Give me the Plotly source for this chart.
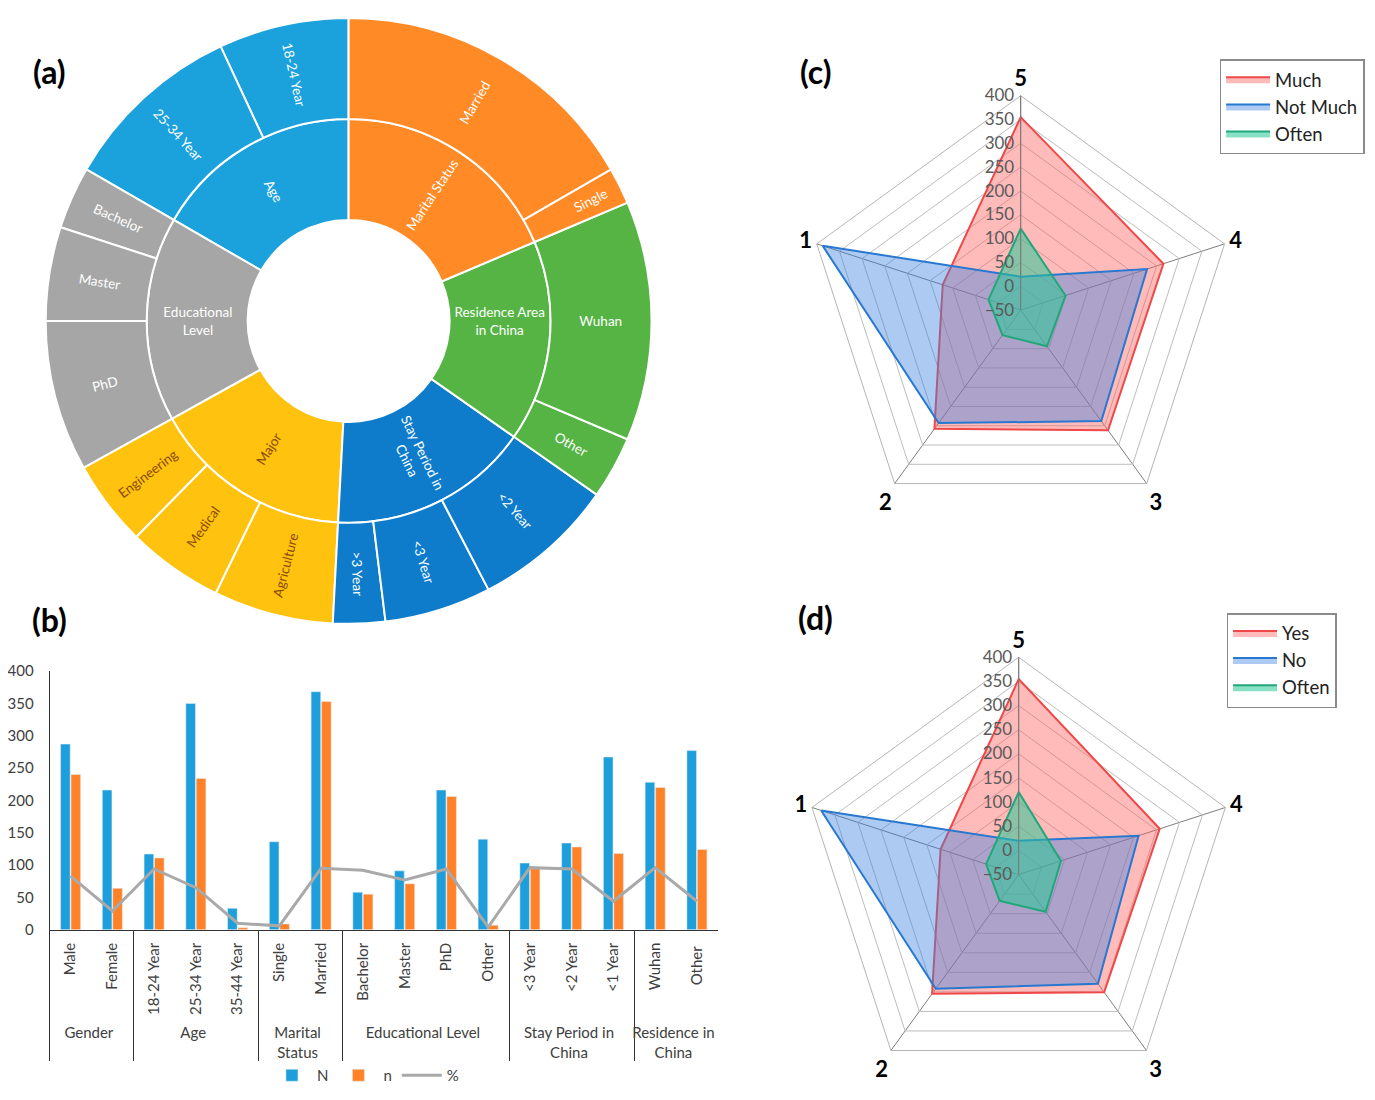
import plotly.graph_objects as go

# ---------------- (a) sunburst data ----------------
sb_groups = ["Age", "Educational Level", "Major", "Stay Period in China",
             "Residence Area in China", "Marital Status"]
sb_group_text = ["Age", "Educational<br>Level", "Major", "Stay Period in<br>China",
                 "Residence Area<br>in China", "Marital Status"]
sb_group_colors = ["#1BA1DC", "#A6A6A6", "#FFC20E", "#0E7CCB", "#55B444", "#FF8A26"]
sb_group_textcolors = ["white", "white", "#8A4B08", "white", "white", "white"]

sb_leaf_labels = ["18-24 Year", "25-34 Year",
                  "Bachelor", "Master", "PhD",
                  "Engineering", "Medical", "Agriculture",
                  ">3 Year", "<3 Year", "<2 Year",
                  "Other", "Wuhan",
                  "Single", "Married"]
sb_leaf_parents = ["Age", "Age",
                   "Educational Level", "Educational Level", "Educational Level",
                   "Major", "Major", "Major",
                   "Stay Period in China", "Stay Period in China", "Stay Period in China",
                   "Residence Area in China", "Residence Area in China",
                   "Marital Status", "Marital Status"]
sb_leaf_values = [25, 35,
                  12, 18, 29,
                  16.5, 18.5, 23,
                  10, 20.5, 27.5,
                  12, 46,
                  7, 60]

# ---------------- (b) bar chart data ----------------
bar_groups = ["Gender", "Gender", "Age", "Age", "Age",
              "Marital<br>Status", "Marital<br>Status",
              "Educational Level", "Educational Level", "Educational Level", "Educational Level",
              "Stay Period in<br>China", "Stay Period in<br>China", "Stay Period in<br>China",
              "Residence in<br>China", "Residence in<br>China"]
bar_cats = ["Male", "Female", "18-24 Year", "25-34 Year", "35-44 Year",
            "Single", "Married", "Bachelor", "Master", "PhD", "Other",
            "<3 Year", "<2 Year", "<1 Year", "Wuhan", "Other "]
N_vals = [287, 216, 117, 350, 33, 136, 368, 58, 91, 216, 140, 103, 134, 267, 228, 277]
n_vals = [240, 64, 111, 234, 3, 9, 353, 55, 71, 206, 7, 97, 128, 118, 220, 124]
pct_vals = [83, 29, 94, 65, 10, 6, 95, 92, 77, 94, 4, 96, 94, 44, 96, 44]
bar_yticks = [0, 50, 100, 150, 200, 250, 300, 350, 400]

# ---------------- (c),(d) radar data ----------------
radar_axes = ["1", "2", "3", "4", "5"]
c_much = [122, 258, 262, 265, 355]
c_notmuch = [387, 243, 238, 229, 20]
c_often = [21, 15, 44, 49, 121]
d_yes = [120, 255, 251, 257, 355]
d_no = [380, 242, 229, 211, 20]
d_often = [21, 17, 45, 42, 121]

# page body has an 8px margin; figure fills the rest of the window
OFF = 8
W, H = 1375 - OFF, 1100 - OFF
def px_x(v):
    return min(max((v - OFF) / W, 0), 1)
def px_y(v):
    return min(max(1 - (v - OFF) / H, 0), 1)

fig = go.Figure()

# ---- sunburst ----
ids = ["root"] + sb_groups + [p + "/" + l for p, l in zip(sb_leaf_parents, sb_leaf_labels)]
labels = [""] + sb_group_text + sb_leaf_labels
parents = [""] + ["root"] * len(sb_groups) + sb_leaf_parents
values = [0] + [0] * len(sb_groups) + sb_leaf_values
gc = dict(zip(sb_groups, sb_group_colors))
tc = dict(zip(sb_groups, sb_group_textcolors))
colors = ["white"] + sb_group_colors + [gc[p] for p in sb_leaf_parents]
tcolors = ["white"] + sb_group_textcolors + [tc[p] for p in sb_leaf_parents]
SB_CX, SB_CY, SB_R = 338, 316, 308
fig.add_trace(go.Sunburst(
    ids=ids, labels=labels, parents=parents, values=values,
    branchvalues="remainder", sort=False, rotation=90,
    marker=dict(colors=colors, line=dict(color="white", width=2)),
    leaf=dict(opacity=1),
    insidetextorientation="radial",
    insidetextfont=dict(family="Lato", size=13.5, color=tcolors),
    hoverinfo="label",
    domain=dict(x=[px_x(SB_CX - SB_R), px_x(SB_CX + SB_R)],
                y=[px_y(SB_CY + SB_R), px_y(SB_CY - SB_R)]),
))

# ---- bar chart ----
xcat = [bar_groups, bar_cats]
fig.add_trace(go.Bar(x=xcat, y=N_vals, name="N", marker_color="#1E9FDB",
                     xaxis="x", yaxis="y", legend="legend"))
fig.add_trace(go.Bar(x=xcat, y=n_vals, name="n", marker_color="#FF8229",
                     xaxis="x", yaxis="y", legend="legend"))
fig.add_trace(go.Scatter(x=xcat, y=pct_vals, name="%", mode="lines",
                         line=dict(color="#A9A9A9", width=3),
                         xaxis="x", yaxis="y", legend="legend"))

# ---- radars ----
def closed(v):
    return list(v) + [v[0]]
theta = closed(radar_axes)

red_fill = "rgba(255,90,90,0.42)"
blue_fill = "rgba(60,130,225,0.42)"
green_fill = "rgba(40,200,150,0.55)"
for vals, name, fc, lc in [(c_much, "Much", red_fill, "#F04848"),
                           (c_notmuch, "Not Much", blue_fill, "#2878D0"),
                           (c_often, "Often", green_fill, "#22A77A")]:
    fig.add_trace(go.Scatterpolar(r=closed(vals), theta=theta, fill="toself", name=name,
                                  mode="lines", fillcolor=fc, line=dict(color=lc, width=2),
                                  subplot="polar", legend="legend2"))
for vals, name, fc, lc in [(d_yes, "Yes", red_fill, "#F04848"),
                           (d_no, "No", blue_fill, "#2878D0"),
                           (d_often, "Often", green_fill, "#22A77A")]:
    fig.add_trace(go.Scatterpolar(r=closed(vals), theta=theta, fill="toself", name=name,
                                  mode="lines", fillcolor=fc, line=dict(color=lc, width=2),
                                  subplot="polar2", legend="legend3"))

def polar_layout(cx, cy, R):
    return dict(
        domain=dict(x=[px_x(cx - R), px_x(cx + R)], y=[px_y(cy + R), px_y(cy - R)]),
        gridshape="linear",
        bgcolor="white",
        radialaxis=dict(range=[-50, 400], dtick=50, angle=90, tickangle=90,
                        side="counterclockwise", showline=True, linecolor="#7A7A7A",
                        gridcolor="#BDBDBD", ticks="",
                        tickfont=dict(family="Lato", size=17, color="#5A5A5A")),
        angularaxis=dict(type="category", categoryorder="array",
                         categoryarray=["5", "1", "2", "3", "4"],
                         direction="counterclockwise", rotation=90,
                         showline=True, linecolor="#B5B5B5", gridcolor="#7E7E7E",
                         ticks="",
                         tickfont=dict(family="Lato", size=22, color="black", weight="bold")),
    )

fig.update_layout(
    width=W, height=H,
    margin=dict(l=0, r=0, t=0, b=0),
    paper_bgcolor="white", plot_bgcolor="white",
    barmode="group", bargap=0.5, bargroupgap=0.08,
    xaxis=dict(domain=[px_x(36), px_x(711)], type="multicategory",
               tickangle=-90, showline=True, linecolor="#333333", linewidth=1,
               showdividers=True, dividercolor="#333333", dividerwidth=1,
               ticks="", tickfont=dict(family="Lato", size=15, color="#404040"),
               ticklabelstandoff=6, anchor="y"),
    yaxis=dict(domain=[px_y(935), px_y(672)], range=[0, 400], tickvals=bar_yticks,
               showline=True, linecolor="#333333", showgrid=False, zeroline=False,
               ticks="", tickfont=dict(family="Lato", size=15, color="#404040"),
               ticklabelstandoff=12, anchor="x"),
    polar=polar_layout(1017, 305, 218),
    polar2=polar_layout(1015, 879, 221),
    legend=dict(orientation="h", x=px_x(355), xanchor="center", y=0,
                yanchor="bottom", font=dict(family="Lato", size=15, color="#404040"),
                itemwidth=40, bgcolor="rgba(0,0,0,0)"),
    legend2=dict(x=px_x(1218), xanchor="left", y=px_y(50), yanchor="top",
                 font=dict(family="Lato", size=18.5, color="#222222"),
                 bordercolor="#8A8A8A", borderwidth=1.5, bgcolor="white",
                 itemwidth=44, tracegroupgap=0),
    legend3=dict(x=px_x(1225), xanchor="left", y=px_y(613), yanchor="top",
                 font=dict(family="Lato", size=18.5, color="#222222"),
                 bordercolor="#8A8A8A", borderwidth=1.5, bgcolor="white",
                 itemwidth=44, tracegroupgap=0),
)

for txt, x, y in [("(a)", 36, 62), ("(b)", 36, 620), ("(c)", 810, 62), ("(d)", 810, 618)]:
    fig.add_annotation(text=txt, x=px_x(x), y=px_y(y), xref="paper", yref="paper",
                       xanchor="center", yanchor="middle",
                       showarrow=False, font=dict(family="Lato", size=32, color="black",
                                                  weight="bold"))

fig.write_html("out.html")
